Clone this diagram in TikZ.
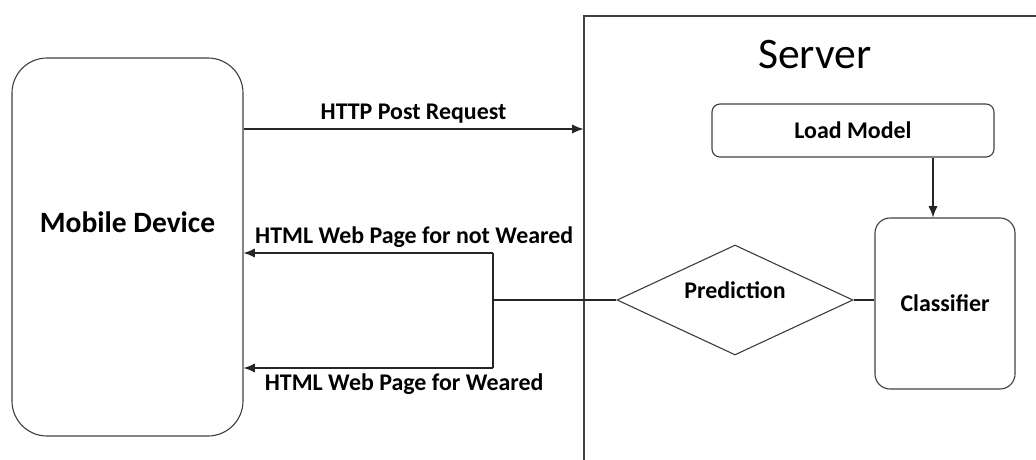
\documentclass[tikz,border=0pt]{standalone}
\usepackage{fontspec}
\setmainfont{Carlito}
\usepackage{tikz}
\usetikzlibrary{arrows.meta, shapes.geometric}
\tikzset{block/.style={rectangle, draw=black!75, line width=0.8pt,
font=\bfseries\fontsize{17}{20}\selectfont}}
\tikzset{msg/.style={font=\bfseries\fontsize{17}{20}\selectfont}}
\tikzset{link/.style={draw=black!85, line width=0.8pt}}
\tikzset{>={Latex[length=8pt, width=6.5pt]}}

\begin{document}
\begin{tikzpicture}[
]
\clip (0,0) rectangle (25.9, 11.475);

\node[block,
rounded corners = 0.875cm,
minimum width = 5.775cm,
minimum height = 9.45cm,
label={[font=\bfseries\fontsize{21}{25}\selectfont, yshift = 0.625cm]center:Mobile Device}] (mob) at (3.1875, 5.3) {};

% server frame runs off the page on the right and at the bottom
\node[rectangle,
draw=black!75,
line width=0.8pt,
minimum width = 12.4cm,
minimum height = 12.075cm] (srv) at (20.8, 5.0375) {};
\node [font=\fontsize{31}{36}\selectfont] (title) at (20.375, 10.1) {Server};

\node[block,
rounded corners = 0.2cm,
minimum width = 7.05cm,
minimum height = 1.325cm] (load) at (21.325, 8.2125) {Load Model};

\node[block,
rounded corners = 0.375cm,
minimum width = 3.5cm,
minimum height = 4.275cm] (cls) at (23.625, 3.8875) {Classifier};

\node[diamond,
draw=black!75,
line width=0.8pt,
inner sep = 0pt,
minimum width = 5.9cm,
minimum height = 2.75cm,
label={[msg, yshift = 0.25cm]center:Prediction}] (pred) at (18.375, 3.975) {};

\coordinate (post) at (10, 8.25);
\coordinate (junc) at (12.325, 3.975);
\coordinate (up) at (12.325, 5.15);
\coordinate (dn) at (12.325, 2.275);

\draw [link, ->] (mob.east |- post) -- node [msg, above] {HTTP Post Request} (srv.west |- post);

\draw [link, ->] ([xshift = 2cm]load.south) -- ([xshift = -0.3cm]cls.north);
\draw [link] (pred.east) -- (pred.east -| cls.west);

\draw [link] (pred.west) -- (junc);
\draw [link] (up) -- (dn);
\draw [link, ->] (up) -- node [msg, above, pos = .316] {HTML Web Page for not Weared} (mob.east |- up);
\draw [link, ->] (dn) -- node [msg, below, pos = .356] {HTML Web Page for Weared} (mob.east |- dn);

\end{tikzpicture}
\end{document}
